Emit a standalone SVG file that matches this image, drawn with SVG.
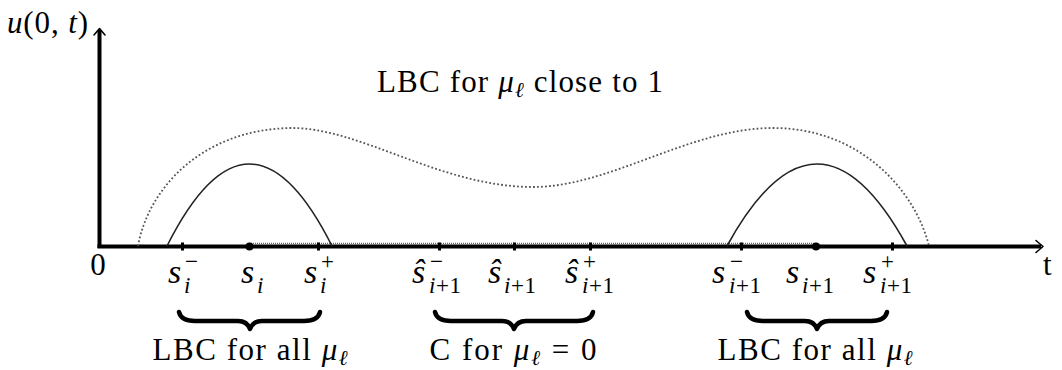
<svg xmlns="http://www.w3.org/2000/svg" width="1062" height="370" viewBox="0 0 1062 370" font-family="'Liberation Serif', 'DejaVu Serif', 'Times New Roman', serif">
<style>
text{font-family:'Liberation Serif','DejaVu Serif','Times New Roman',serif;fill:#000;font-size:31px}
.it{font-style:italic}
.sm{font-size:21px}
.ps{font-size:34px;font-style:italic}
.pss{font-size:23px}
.axis{stroke:#000;stroke-width:4;fill:none}
.head{stroke:#000;stroke-width:1.6;fill:none;stroke-linecap:round;stroke-linejoin:round}
.arc{stroke:#222;stroke-width:1.6;fill:none}
.dot{stroke:#555;stroke-width:1.8;fill:none;stroke-dasharray:1.8 2.2}
.fine{stroke:#666;stroke-width:1.4;fill:none;stroke-dasharray:1 1}
.brace{stroke:#000;stroke-width:4.5;fill:none;stroke-linecap:round;stroke-linejoin:round}
.tick{fill:#000}
</style>
<rect width="1062" height="370" fill="#fff"/>
<g id="axes">
<line class="axis" x1="99.5" y1="248" x2="99.5" y2="30"/>
<line class="axis" x1="97.5" y1="246.5" x2="1041" y2="246.5"/>
<path class="head" d="M94,35 L99.5,28.5 L105,35"/>
<path class="head" d="M1036,240.5 L1043,246.5 L1036,252.5"/>
<text x="7" y="33" font-size="32" textLength="81" lengthAdjust="spacing"><tspan class="it">u</tspan>(0, <tspan class="it">t</tspan>)</text>
<text x="98" y="275" text-anchor="middle">0</text>
<text x="1043" y="275">t</text>
</g>
<g id="curves">
<path class="dot" d="M138,246 C148,190 200,130 290,128 C360,127 440,187 533,187 C610,187 690,128 773,128 C860,128 915,190 929,246"/>
<path class="fine" d="M249,243.5 L815,243.5"/>
<path class="arc" d="M167,246 Q249.5,82 332,246"/>
<path class="arc" d="M727,246 Q817,82 907,246"/>
</g>
<g id="ticks">
<rect class="tick" x="181" y="242.5" width="3" height="8"/>
<rect class="tick" x="317" y="242.5" width="3" height="8"/>
<rect class="tick" x="438" y="242.5" width="3" height="8"/>
<rect class="tick" x="513" y="242.5" width="3" height="8"/>
<rect class="tick" x="589" y="242.5" width="3" height="8"/>
<rect class="tick" x="740" y="242.5" width="3" height="8"/>
<rect class="tick" x="891" y="242.5" width="3" height="8"/>
<circle class="tick" cx="249.5" cy="246.5" r="4"/>
<circle class="tick" cx="816" cy="246.5" r="4"/>
</g>
<g id="point-labels">
<text class="ps" x="168" y="283">s</text><text class="pss" x="185" y="269">−</text><text class="pss it" x="184" y="293">i</text>
<text class="ps" x="241" y="283">s</text><text class="pss it" x="257" y="293">i</text>
<text class="ps" x="304" y="283">s</text><text class="pss" x="321" y="269">+</text><text class="pss it" x="320" y="293">i</text>
<text class="ps" x="412" y="283">ŝ</text><text class="pss" x="430" y="269">−</text><text class="pss" x="429" y="293" textLength="32"><tspan class="it">i</tspan>+1</text>
<text class="ps" x="488" y="283">ŝ</text><text class="pss" x="504" y="293" textLength="32"><tspan class="it">i</tspan>+1</text>
<text class="ps" x="565" y="283">ŝ</text><text class="pss" x="583" y="269">+</text><text class="pss" x="582" y="293" textLength="32"><tspan class="it">i</tspan>+1</text>
<text class="ps" x="712" y="283">s</text><text class="pss" x="730" y="269">−</text><text class="pss" x="729" y="293" textLength="32"><tspan class="it">i</tspan>+1</text>
<text class="ps" x="786" y="283">s</text><text class="pss" x="802" y="293" textLength="32"><tspan class="it">i</tspan>+1</text>
<text class="ps" x="863" y="283">s</text><text class="pss" x="881" y="269">+</text><text class="pss" x="880" y="293" textLength="32"><tspan class="it">i</tspan>+1</text>
</g>
<g id="braces">
<path class="brace" d="M179,312 Q181,321 195,321 L238,321 Q247,321 250,329 Q253,321 262,321 L304,321 Q318,321 320,312"/>
<path class="brace" d="M435,312 Q437,321 451,321 L502,321 Q511,321 514,329 Q517,321 526,321 L577,321 Q591,321 593,312"/>
<path class="brace" d="M747,312 Q749,321 763,321 L805,321 Q814,321 817,329 Q820,321 829,321 L871,321 Q885,321 887,312"/>
</g>
<g id="region-labels">
<text x="520" y="92" font-size="32" text-anchor="middle" textLength="286" lengthAdjust="spacing">LBC for <tspan class="it">μ</tspan><tspan class="sm it" dy="5">ℓ</tspan><tspan dy="-5"> close to 1</tspan></text>
<text x="250" y="360" font-size="32" text-anchor="middle" textLength="195" lengthAdjust="spacing">LBC for all <tspan class="it">μ</tspan><tspan class="sm it" dy="5">ℓ</tspan></text>
<text x="513" y="360" font-size="32" text-anchor="middle" textLength="167" lengthAdjust="spacing">C for <tspan class="it">μ</tspan><tspan class="sm it" dy="5">ℓ</tspan><tspan dy="-5"> = 0</tspan></text>
<text x="815" y="360" font-size="32" text-anchor="middle" textLength="195" lengthAdjust="spacing">LBC for all <tspan class="it">μ</tspan><tspan class="sm it" dy="5">ℓ</tspan></text>
</g>
</svg>
